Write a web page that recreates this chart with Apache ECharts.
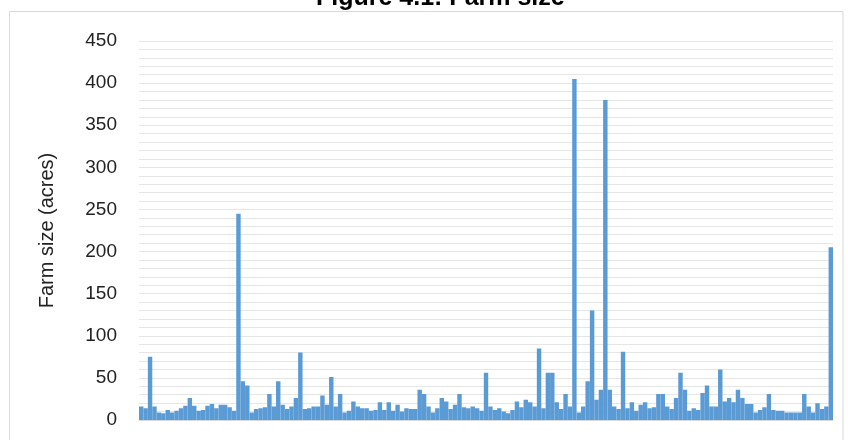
<!DOCTYPE html>
<html>
<head>
<meta charset="utf-8">
<script src="https://cdn.jsdelivr.net/npm/echarts@6/dist/echarts.min.js"></script>
<style>
  html, body { margin: 0; padding: 0; background: #fff; }
  #main { width: 848px; height: 440px; }
</style>
</head>
<body>
<div id="main"></div>
<script>
const farmSize = [
  16, 14, 75, 16, 9, 8, 12, 9, 11, 14, 17, 26, 17, 11, 12, 17, 19, 14, 18, 18,
  15, 11, 245, 46, 41, 9, 13, 14, 15, 31, 16, 46, 18, 13, 16, 26, 80, 13, 14, 16,
  16, 29, 18, 51, 16, 31, 9, 11, 22, 16, 14, 14,
  11, 12, 21, 12, 21, 11, 18, 10, 14, 13, 13, 36, 31, 16, 9, 14, 26, 22, 13, 18,
  31, 15, 14, 16, 14, 11, 56, 16, 12, 14, 10, 8, 12, 22, 15, 24, 21, 16, 85, 14,
  56, 56, 21, 13, 31, 16, 405, 9, 16, 46,
  130, 24, 36, 380, 36, 16, 13, 81, 14, 21, 11, 18, 21, 14, 15, 31, 31, 16, 13, 26,
  56, 36, 11, 14, 12, 32, 41, 16, 16, 60, 22, 26, 21, 36, 26, 19, 19, 9, 12, 15,
  31, 12, 11, 11, 9, 9, 9, 9, 31, 16, 9, 20, 13, 16, 205
];
// farm numbers on the category axis (not printed)
const farmIds = farmSize.map((v, i) => String(i + 1));
// labelled ticks on the value axis
const yLabels = [0, 50, 100, 150, 200, 250, 300, 350, 400, 450];

const chart = echarts.init(document.getElementById('main'));
const option = {
  animation: false,
  title: {
    text: 'Figure 4.1: Farm size',
    left: 311,
    top: -19,
    textStyle: {
      fontFamily: 'Liberation Sans',
      fontWeight: 'bold',
      fontSize: 25,
      color: '#000'
    }
  },
  // outer chart frame
  graphic: [{
    type: 'rect',
    silent: true,
    z: -1,
    shape: { x: 9.5, y: 11.5, width: 833.5, height: 440 },
    style: { fill: 'none', stroke: '#D9D9D9', lineWidth: 1 }
  }],
  grid: { left: 139, right: 15, top: 41, bottom: 20 },
  xAxis: {
    type: 'category',
    data: farmIds,
    axisLine: { show: true, lineStyle: { color: '#D9D9D9' } },
    axisTick: { show: false },
    axisLabel: { show: false },
    splitLine: { show: false }
  },
  yAxis: {
    type: 'value',
    min: 0,
    max: 450,
    interval: 10,
    name: 'Farm size (acres)',
    nameLocation: 'middle',
    nameGap: 82,
    nameTextStyle: { fontFamily: 'Liberation Sans', fontSize: 20, color: '#222' },
    axisLine: { show: false },
    axisTick: { show: false },
    axisLabel: {
      margin: 22,
      fontFamily: 'Liberation Sans',
      fontSize: 19,
      color: '#222',
      formatter: function (v) { return yLabels.indexOf(v) >= 0 ? String(v) : ''; }
    },
    splitLine: { show: true, lineStyle: { color: '#E6E6E6', width: 1 } }
  },
  series: [{
    type: 'bar',
    data: farmSize,
    barCategoryGap: '0%',
    itemStyle: { color: '#5B9BD5', borderColor: '#5B9BD5', borderWidth: 1.6 }
  }]
};
chart.setOption(option);
</script>
</body>
</html>
